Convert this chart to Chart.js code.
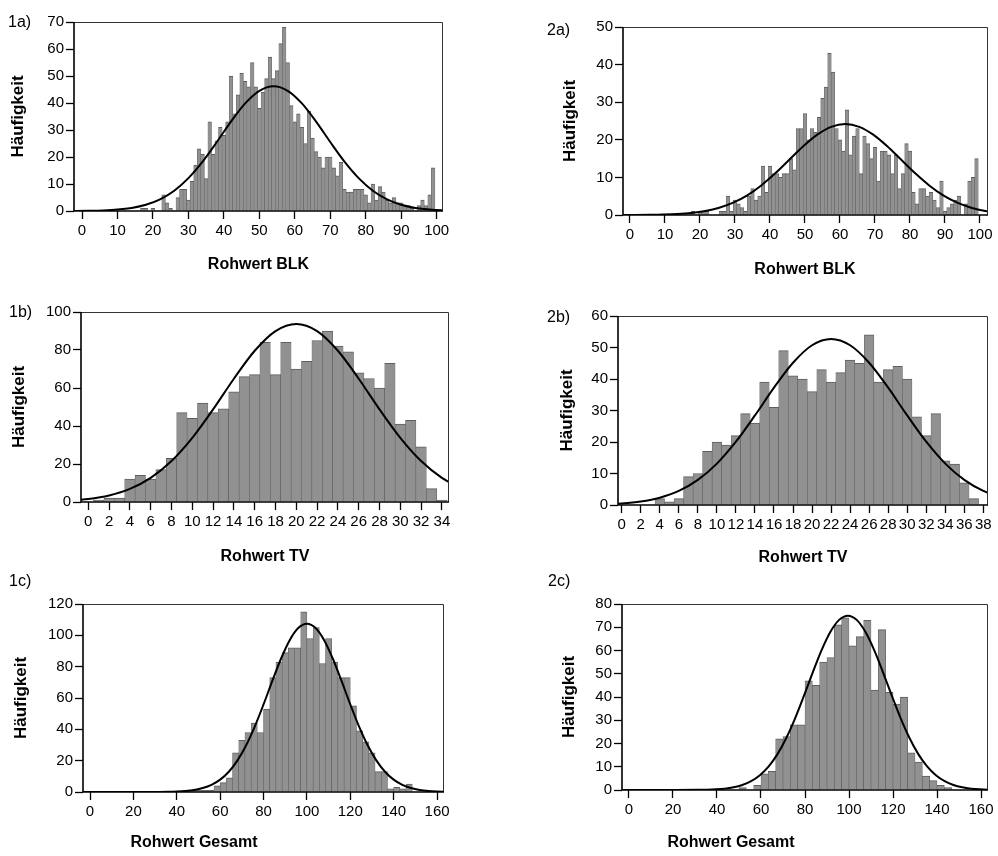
<!DOCTYPE html>
<html><head><meta charset="utf-8">
<script src="https://cdn.jsdelivr.net/npm/chart.js@4.4.1/dist/chart.umd.min.js"></script>
<style>
html,body{margin:0;padding:0;background:#fff;overflow:hidden;width:998px;height:856px;position:relative;}
.wrap{position:absolute;}
.wrap canvas{display:block;}
.lbl{position:absolute;font-family:"Liberation Sans",Arial,sans-serif;font-size:16px;line-height:16px;color:#000;white-space:nowrap;}
.xt{position:absolute;font-family:"Liberation Sans",Arial,sans-serif;font-size:16px;font-weight:bold;line-height:16px;color:#000;white-space:nowrap;transform:translate(-50%,-50%);}
</style></head><body>
<script>
// ---------------- DATA ----------------
// 1a) Rohwert BLK (group 1)
const blkBins1 = [17,18,19,20,21,22,23,24,25,26,27,28,29,30,31,32,33,34,35,36,37,38,39,40,41,42,43,44,45,46,47,48,49,50,51,52,53,54,55,56,57,58,59,60,61,62,63,64,65,66,67,68,69,70,71,72,73,74,75,76,77,78,79,80,81,82,83,84,85,86,87,88,89,90,91,92,93,94,95,96,97,98,99,100];
const blkCounts1 = [1,1,0,1,0,0,6,3,1,0,5,8,8,4,11,17,23,21,12,33,21,26,31,28,33,50,36,43,51,48,46,55,46,38,44,49,57,49,52,62,68,55,39,33,36,31,25,37,27,22,20,16,20,20,16,13,18,8,7,7,8,8,8,6,3,10,4,9,7,4,3,5,3,3,2,2,1,0,2,4,2,6,16,0];
const blkCurveX1 = [-6,-2,2,6,10,14,18,22,26,30,34,38,42,46,50,54,58,62,66,70,74,78,82,86,90,94,98,102,106];
const blkCurveY1 = [0.01,0.03,0.09,0.22,0.52,1.14,2.30,4.32,7.52,12.18,18.30,25.54,33.10,39.84,44.52,46.2,44.52,39.84,33.10,25.54,18.30,12.18,7.52,4.32,2.30,1.14,0.52,0.22,0.09];

// 2a) Rohwert BLK (group 2)
const blkBins2 = [17,18,19,20,21,22,23,24,25,26,27,28,29,30,31,32,33,34,35,36,37,38,39,40,41,42,43,44,45,46,47,48,49,50,51,52,53,54,55,56,57,58,59,60,61,62,63,64,65,66,67,68,69,70,71,72,73,74,75,76,77,78,79,80,81,82,83,84,85,86,87,88,89,90,91,92,93,94,95,96,97,98,99,100];
const blkCounts2 = [0,1,0,1,1,1,0,0,0,1,1,5,1,4,3,2,1,5,7,4,5,13,6,13,11,11,10,11,11,15,12,23,23,27,20,23,22,26,31,34,43,38,23,20,17,28,16,21,23,11,21,19,15,18,9,17,17,16,11,16,7,11,19,17,6,3,7,7,5,6,4,2,9,1,2,3,4,5,0,3,9,10,15,0];
const blkCurveX2 = [-2.5,1.5,5.5,9.5,13.5,17.5,21.5,25.5,29.5,33.5,37.5,41.5,45.5,49.5,53.5,57.5,61.5,65.5,69.5,73.5,77.5,81.5,85.5,89.5,93.5,97.5,101.5,105.5];
const blkCurveY2 = [0.01,0.02,0.05,0.12,0.27,0.55,1.06,1.93,3.27,5.23,7.86,11.08,14.68,18.27,21.36,23.45,24.2,23.45,21.36,18.27,14.68,11.08,7.86,5.23,3.27,1.93,1.06,0.55];

// 1b) Rohwert TV (group 1)
const tvBins1 = [1,2,3,4,5,6,7,8,9,10,11,12,13,14,15,16,17,18,19,20,21,22,23,24,25,26,27,28,29,30,31,32,33,34];
const tvCounts1 = [1,2,2,12,14,12,17,23,47,44,52,47,49,58,66,67,84,67,84,70,74,85,90,82,79,68,65,60,73,41,43,29,7,1];
const tvCurveX1 = [-2,0,2,4,6,8,10,12,14,16,18,20,22,24,26,28,30,32,34,36];
const tvCurveY1 = [0.67,1.58,3.44,6.87,12.68,21.56,33.77,48.77,64.89,79.59,89.95,93.7,89.95,79.59,64.89,48.77,33.77,21.56,12.68,6.87];

// 2b) Rohwert TV (group 2)
const tvBins2 = [4,5,6,7,8,9,10,11,12,13,14,15,16,17,18,19,20,21,22,23,24,25,26,27,28,29,30,31,32,33,34,35,36,37];
const tvCounts2 = [2,1,2,9,10,17,20,19,22,29,26,39,31,49,41,40,36,43,39,42,46,45,54,39,43,44,40,28,22,29,14,13,7,2];
const tvCurveX2 = [-2,0,2,4,6,8,10,12,14,16,18,20,22,24,26,28,30,32,34,36,38,40];
const tvCurveY2 = [0.20,0.49,1.11,2.32,4.46,7.96,13.14,20.09,28.43,37.24,45.16,50.71,52.7,50.71,45.16,37.24,28.43,20.09,13.14,7.96,4.46,2.32];

// 1c) Rohwert Gesamt (group 1)
const gesBins1 = [41.43,44.29,47.14,50,52.86,55.71,58.57,61.43,64.29,67.14,70,72.86,75.71,78.57,81.43,84.29,87.14,90,92.86,95.71,98.57,101.43,104.29,107.14,110,112.86,115.71,118.57,121.43,124.29,127.14,130,132.86,135.71,138.57,141.43,144.29,147.14];
const gesCounts1 = [0,1,1,1,1,1,4,6,9,25,33,38,44,38,53,73,83,89,92,92,115,98,105,82,98,83,73,73,55,39,32,25,13,13,2,3,2,5];
const gesCurveX1 = [-6,20,32,36,40,44,48,52,56,60,64,68,72,76,80,84,88,92,96,100,104,108,112,116,120,124,128,132,136,140,144,148,152,156,160,164,168];
const gesCurveY1 = [0,0,0.06,0.13,0.30,0.64,1.30,2.50,4.55,7.88,12.94,20.18,29.86,41.94,55.90,70.71,84.90,96.74,104.63,107.4,104.63,96.74,84.90,70.71,55.90,41.94,29.86,20.18,12.94,7.88,4.55,2.50,1.30,0.64,0.30,0.13,0.06];

// 2c) Rohwert Gesamt (group 2)
const gesBins2 = [51.67,55,58.33,61.67,65,68.33,71.67,75,78.33,81.67,85,88.33,91.67,95,98.33,101.67,105,108.33,111.67,115,118.33,121.67,125,128.33,131.67,135,138.33,141.67,145];
const gesCounts2 = [1,0,2,7,8,22,23,28,28,47,45,55,57,71,74,62,66,73,43,69,42,37,40,16,12,6,4,2,1];
const gesCurveX2 = [-6,20,31.5,35.5,39.5,43.5,47.5,51.5,55.5,59.5,63.5,67.5,71.5,75.5,79.5,83.5,87.5,91.5,95.5,99.5,103.5,107.5,111.5,115.5,119.5,123.5,127.5,131.5,135.5,139.5,143.5,147.5,151.5,155.5,159.5,163.5,167.5];
const gesCurveY2 = [0,0,0.06,0.13,0.29,0.59,1.16,2.14,3.78,6.35,10.15,15.44,22.37,30.83,40.46,50.52,60.06,67.95,73.17,75,73.17,67.95,60.06,50.52,40.46,30.83,22.37,15.44,10.15,6.35,3.78,2.14,1.16,0.59,0.29,0.13,0.06];

// tick labels
const xTicksBLK = [0,10,20,30,40,50,60,70,80,90,100];
const xTicksTV1 = [0,2,4,6,8,10,12,14,16,18,20,22,24,26,28,30,32,34];
const xTicksTV2 = [0,2,4,6,8,10,12,14,16,18,20,22,24,26,28,30,32,34,36,38];
const xTicksGes = [0,20,40,60,80,100,120,140,160];
const yTicks1a = [0,10,20,30,40,50,60,70];
const yTicks2a = [0,10,20,30,40,50];
const yTicks1b = [0,20,40,60,80,100];
const yTicks2b = [0,10,20,30,40,50,60];
const yTicks1c = [0,20,40,60,80,100,120];
const yTicks2c = [0,10,20,30,40,50,60,70,80];

const yTitle = 'Häufigkeit';
const xTitleBLK = 'Rohwert BLK';
const xTitleTV = 'Rohwert TV';
const xTitleGes = 'Rohwert Gesamt';

// ---------------- LAYOUT ----------------
Chart.defaults.font.family = '"Liberation Sans", Arial, sans-serif';
Chart.defaults.color = '#000';
const YW = 72, PT = 12, PR = 14, XH = 64;

const framePlugin = {
  id: 'frame',
  afterDatasetsDraw(chart) {
    const {ctx, chartArea: a} = chart;
    ctx.save();
    ctx.strokeStyle = '#333';
    ctx.lineWidth = 1;
    ctx.beginPath();
    ctx.moveTo(a.left, a.top + 0.5);
    ctx.lineTo(a.right - 0.5, a.top + 0.5);
    ctx.lineTo(a.right - 0.5, a.bottom);
    ctx.stroke();
    ctx.strokeStyle = '#000';
    ctx.lineWidth = 1.6;
    ctx.beginPath();
    ctx.moveTo(a.left, a.top);
    ctx.lineTo(a.left, a.bottom);
    ctx.lineTo(a.right, a.bottom);
    ctx.stroke();
    ctx.restore();
  }
};

function pairs(xs, ys) { return xs.map((x, i) => ({x: x, y: ys[i]})); }

function addText(cls, text, x, y) {
  const d = document.createElement('div');
  d.className = cls;
  d.textContent = text;
  d.style.left = x + 'px';
  d.style.top = y + 'px';
  document.body.appendChild(d);
}

function makePanel(p) {
  const w = p.R - p.L + YW + PR, h = p.B - p.T + PT + XH;
  const div = document.createElement('div');
  div.className = 'wrap';
  div.style.left = (p.L - YW) + 'px';
  div.style.top = (p.T - PT) + 'px';
  div.style.width = w + 'px';
  div.style.height = h + 'px';
  const cv = document.createElement('canvas');
  cv.width = w; cv.height = h;
  cv.style.width = w + 'px'; cv.style.height = h + 'px';
  div.appendChild(cv);
  document.body.appendChild(div);

  addText('lbl', p.label, p.labelX, p.labelY);
  addText('xt', p.xTitle, p.xTitleX, p.xTitleY);

  new Chart(cv, {
    type: 'bar',
    data: {
      datasets: [
        {
          type: 'line',
          data: pairs(p.curveX, p.curveY),
          borderColor: '#000',
          borderWidth: 2,
          pointRadius: 0,
          fill: false,
          cubicInterpolationMode: 'monotone',
          order: 0
        },
        {
          type: 'bar',
          data: pairs(p.bins, p.counts).filter(d => d.y > 0),
          backgroundColor: '#919191',
          borderColor: '#5e5e5e',
          borderWidth: p.narrow ? {top: 1, left: 0.5, right: 0.5, bottom: 0} : {top: 1, left: 0.6, right: 0.6, bottom: 0},
          borderSkipped: 'start',
          barPercentage: 1,
          categoryPercentage: 1,
          order: 1
        }
      ]
    },
    options: {
      responsive: false,
      animation: false,
      devicePixelRatio: 1,
      layout: {padding: {left: 0, top: PT, right: PR, bottom: 0}},
      plugins: {legend: {display: false}, tooltip: {enabled: false}},
      scales: {
        x: {
          type: 'linear', position: 'bottom', min: p.xMin, max: p.xMax, offset: false,
          afterBuildTicks: s => { s.ticks = p.xTicks.map(v => ({value: v})); },
          afterFit: s => { s.height = XH; s.paddingLeft = 0; s.paddingRight = 0; },
          ticks: {autoSkip: false, maxRotation: 0, minRotation: 0, padding: 3, font: {size: 15}, color: '#000', callback: v => String(v)},
          grid: {display: true, drawOnChartArea: false, drawTicks: true, tickLength: 8, tickColor: '#000', tickWidth: 1.3, offset: false},
          border: {display: false},
          title: {display: false}
        },
        y: {
          type: 'linear', position: 'left', min: p.yTicks[0], max: p.yTicks[p.yTicks.length - 1],
          afterBuildTicks: s => { s.ticks = p.yTicks.map(v => ({value: v})); },
          afterFit: s => { s.width = YW; s.paddingTop = 0; s.paddingBottom = 0; },
          ticks: {autoSkip: false, padding: 2, font: {size: 15}, color: '#000', callback: v => String(v)},
          grid: {display: true, drawOnChartArea: false, drawTicks: true, tickLength: 8, tickColor: '#000', tickWidth: 1.3},
          border: {display: false},
          title: {display: true, text: yTitle, color: '#000', font: {size: 17, weight: 'bold'}, padding: {top: Math.max(0, p.yTitleX - (p.L - YW) - 10.2), bottom: 0}}
        }
      }
    },
    plugins: [framePlugin]
  });
}

const panels = [
  {label: '1a)', labelX: 8, labelY: 14, L: 74, R: 443, T: 22, B: 211, xMin: -2.26, xMax: 101.78,
   bins: blkBins1, counts: blkCounts1, curveX: blkCurveX1, curveY: blkCurveY1,
   xTicks: xTicksBLK, yTicks: yTicks1a, xTitle: xTitleBLK, xTitleX: 258.5, xTitleY: 264, yTitleX: 18, narrow: true},
  {label: '2a)', labelX: 547, labelY: 22, L: 623, R: 988, T: 27, B: 215, xMin: -2.0, xMax: 102.29,
   bins: blkBins2, counts: blkCounts2, curveX: blkCurveX2, curveY: blkCurveY2,
   xTicks: xTicksBLK, yTicks: yTicks2a, xTitle: xTitleBLK, xTitleX: 805, xTitleY: 269, yTitleX: 570, narrow: true},
  {label: '1b)', labelX: 9, labelY: 304, L: 81, R: 449, T: 312, B: 502, xMin: -0.70, xMax: 34.68,
   bins: tvBins1, counts: tvCounts1, curveX: tvCurveX1, curveY: tvCurveY1,
   xTicks: xTicksTV1, yTicks: yTicks1b, xTitle: xTitleTV, xTitleX: 265, xTitleY: 556, yTitleX: 19, narrow: false},
  {label: '2b)', labelX: 547, labelY: 309, L: 618, R: 988, T: 316, B: 505, xMin: -0.39, xMax: 38.49,
   bins: tvBins2, counts: tvCounts2, curveX: tvCurveX2, curveY: tvCurveY2,
   xTicks: xTicksTV2, yTicks: yTicks2b, xTitle: xTitleTV, xTitleX: 803, xTitleY: 557, yTitleX: 567, narrow: false},
  {label: '1c)', labelX: 9, labelY: 573, L: 83, R: 444, T: 604, B: 792, xMin: -3.23, xMax: 163.2,
   bins: gesBins1, counts: gesCounts1, curveX: gesCurveX1, curveY: gesCurveY1,
   xTicks: xTicksGes, yTicks: yTicks1c, xTitle: xTitleGes, xTitleX: 194, xTitleY: 842, yTitleX: 20, narrow: false},
  {label: '2c)', labelX: 548, labelY: 573, L: 622, R: 988, T: 604, B: 790, xMin: -3.18, xMax: 163.18,
   bins: gesBins2, counts: gesCounts2, curveX: gesCurveX2, curveY: gesCurveY2,
   xTicks: xTicksGes, yTicks: yTicks2c, xTitle: xTitleGes, xTitleX: 731, xTitleY: 842, yTitleX: 569, narrow: false}
];

panels.forEach(makePanel);
</script>
</body></html>
